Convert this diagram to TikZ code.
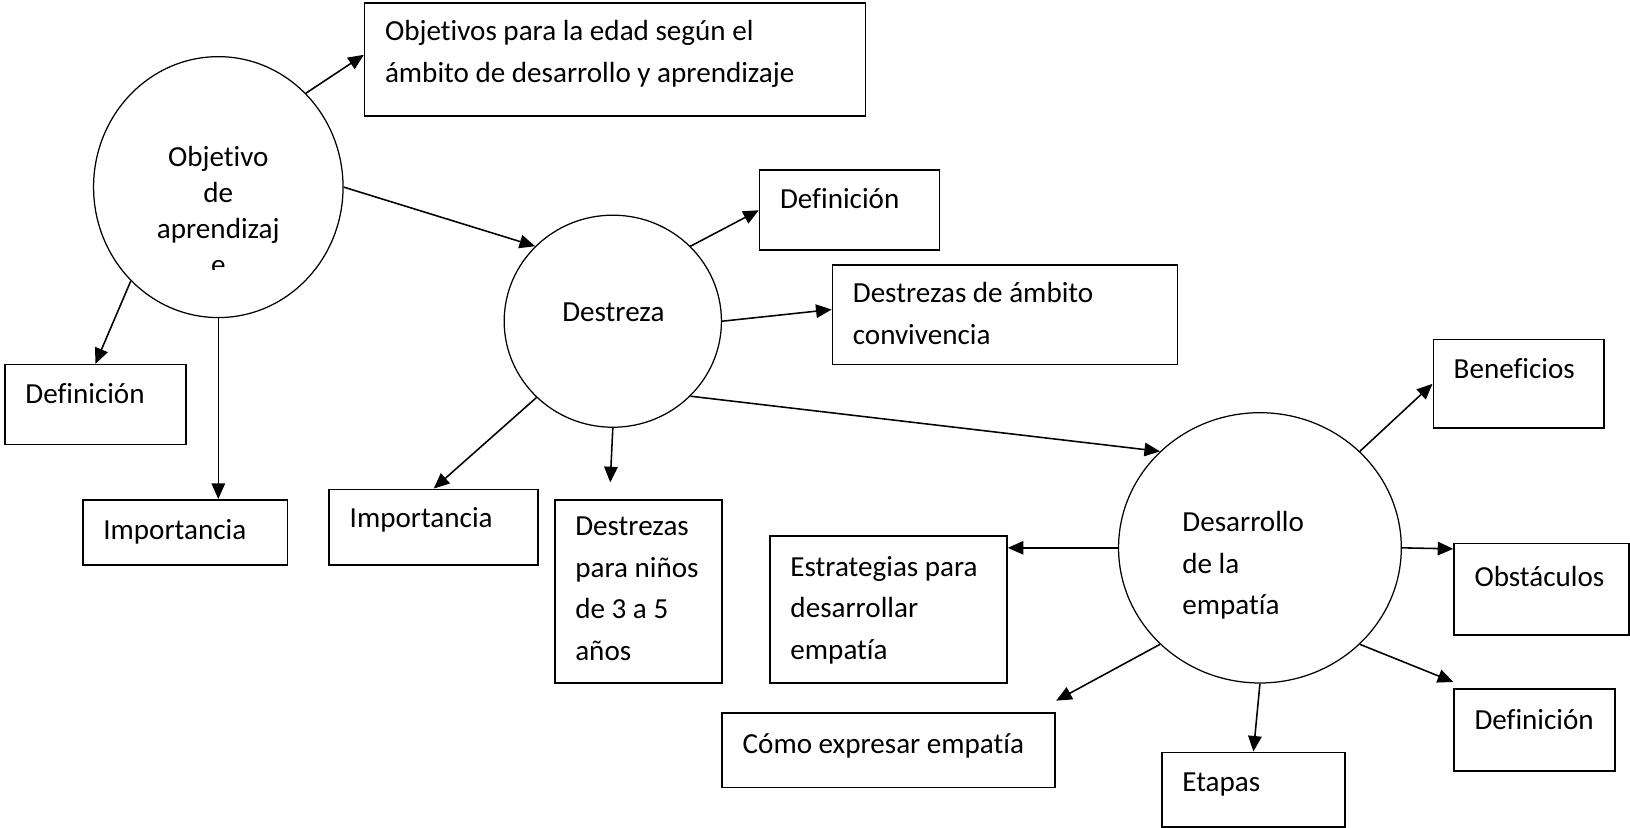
\documentclass[tikz,border=0pt]{standalone}
\usepackage{fontspec}
\setmainfont[Ligatures={NoCommon,NoContextual},RawFeature={-liga,-clig,-calt,-dlig}]{Carlito}
\usetikzlibrary{arrows.meta,shapes.geometric,calc}
\begin{document}
\begin{tikzpicture}[x=0.5pt,y=-0.5pt,
  box/.style={draw,rectangle,line width=0.75pt,inner sep=0pt,anchor=north west},
  oval/.style={draw,ellipse,line width=0.6pt,inner sep=0pt},
  txt/.style={inner sep=0pt,anchor=north west,align=left,font=\fontsize{14}{20}\selectfont},
  ctxt/.style={inner sep=0pt,anchor=north,align=center,font=\fontsize{14}{17.25}\selectfont},
  conn/.style={line width=0.75pt,-{Triangle[length=7.5pt,width=6.5pt]}}]
\useasboundingbox (0,0) rectangle (1568,796);
% ellipses
\node[oval,minimum width=120pt,minimum height=125.5pt] (C1) at (210,180) {};
\node[oval,minimum width=104.5pt,minimum height=102pt] (D) at (589.5,309) {};
\node[oval,minimum width=136pt,minimum height=130pt] (E) at (1212,527) {};
% ellipse texts
\begin{scope}
\clip (90,100) rectangle (330,259);
\node[ctxt] (C1t) at (210,135.85) {\strut Objetivo\\de\\aprendizaj\\e};
\end{scope}
\node[ctxt,font=\fontsize{14}{20}\selectfont] (Dt) at (590,281) {\strut Destreza};
\node[txt] (Et) at (1137,483) {\strut Desarrollo\\de la\\empatía};
% boxes
\node[box,minimum width=241pt,minimum height=54.5pt] (TB) at (350,2) {};
\node[box,minimum width=86.5pt,minimum height=38.5pt] (DM) at (730,163) {};
\node[box,minimum width=166pt,minimum height=48pt] (DC) at (800,254) {};
\node[box,minimum width=87pt,minimum height=38.5pt] (DL) at (4,350) {};
\node[box,minimum width=98.5pt,minimum height=31.5pt] (IL) at (79,480) {};
\node[box,minimum width=100.5pt,minimum height=36.5pt] (IM) at (316,470) {};
\node[box,minimum width=80.5pt,minimum height=88pt] (DN) at (533,480) {};
\node[box,minimum width=114pt,minimum height=70.5pt] (ES) at (740,515) {};
\node[box,minimum width=160pt,minimum height=36pt] (EC) at (694,685) {};
\node[box,minimum width=88pt,minimum height=36pt] (ET) at (1117,723) {};
\node[box,minimum width=82pt,minimum height=42.5pt] (EB) at (1378,326) {};
\node[box,minimum width=84pt,minimum height=44pt] (EO) at (1398,522) {};
\node[box,minimum width=77.5pt,minimum height=39.5pt] (ED) at (1398,662) {};
% box texts
\node[txt] (TBt) at (370,11) {\strut Objetivos para la edad según el\\ámbito de desarrollo y aprendizaje};
\node[txt] (DMt) at (750,172) {\strut Definición};
\node[txt] (DCt) at (820,263) {\strut Destrezas de ámbito\\convivencia};
\node[txt] (DLt) at (24,360) {\strut Definición};
\node[txt] (ILt) at (99,491) {\strut Importancia};
\node[txt] (IMt) at (336,479) {\strut Importancia};
\node[txt] (DNt) at (553,487) {\strut Destrezas\\para niños\\de 3 a 5\\años};
\node[txt] (ESt) at (760,526) {\strut Estrategias para\\desarrollar\\empatía};
\node[txt] (ECt) at (714,696) {\strut Cómo expresar empatía};
\node[txt] (ETt) at (1137,733) {\strut Etapas};
\node[txt] (EBt) at (1398,336) {\strut Beneficios};
\node[txt] (EOt) at (1418,536) {\strut Obstáculos};
\node[txt] (EDt) at (1418,673) {\strut Definición};
% free ends
\coordinate (dnend) at (587,464);
\coordinate (edend) at (1398,656);
\coordinate (ecend) at (1016,674);
% connectors
\draw[conn] (C1.47) -- ([yshift=2.25pt]TB.west);
\draw[conn] (C1.east) -- (D.136);
\draw[conn] (C1.227) -- (DL.north);
\draw[conn] (C1.south) -- (C1.south |- IL.north);
\draw[conn] (D.44) -- (DM.west);
\draw[conn] (D.east) -- ([yshift=2.5pt]DC.west);
\draw[conn] (D.-44) -- (E.136);
\draw[conn] (D.225) -- (IM.north);
\draw[conn] (D.south) -- (dnend);
\draw[conn] (E.44) -- (EB.west);
\draw[conn] (E.east) -- ([yshift=-3pt]EO.north west);
\draw[conn] (E.-44) -- (edend);
\draw[conn] (E.south) -- (ET.north);
\draw[conn] (E.224) -- (ecend);
\draw[conn] (E.west) -- ([yshift=-6pt]ES.north east);
\end{tikzpicture}
\end{document}
